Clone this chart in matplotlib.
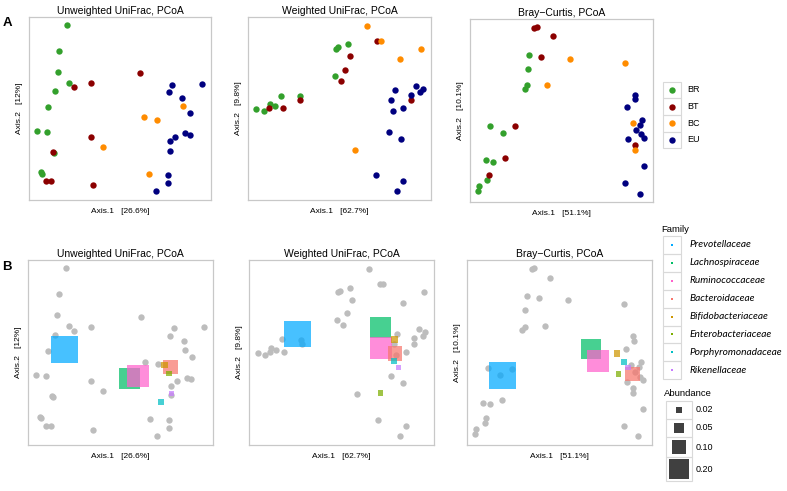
import matplotlib
matplotlib.use('Agg')
import matplotlib.pyplot as plt
import numpy as np

plt.rcParams['font.family'] = ['Liberation Sans', 'DejaVu Sans']

# sample coordinates (scaled 0-100 inside each frame)
# Unweighted UniFrac
uw_br = [(20.7, 95.5), (16.5, 81.5), (15.9, 70.2), (22.1, 64.2), (14.4, 59.5), (10.6, 50.9),
         (4.4, 37.8), (9.7, 37.3), (13.7, 25.8), (6.6, 15.3), (7.1, 14.4)]
uw_bt = [(61.2, 69.3), (33.8, 63.8), (24.7, 61.6), (33.8, 34.5), (13.2, 26.4), (9.5, 10.2),
         (12.2, 10.4), (35.3, 8.0)]
uw_bc = [(84.6, 51.6), (63.1, 45.1), (70.4, 43.8), (40.6, 29.1), (65.8, 14.0)]
uw_eu = [(78.8, 63.1), (95.2, 63.6), (76.8, 59.1), (84.3, 56.0), (88.5, 47.3), (85.7, 36.4),
         (88.3, 35.6), (80.3, 34.4), (77.3, 32.0), (77.5, 26.9), (76.2, 13.5), (76.1, 9.1), (69.7, 4.7)]
# Weighted UniFrac
wu_br = [(4.6, 49.5), (8.6, 48.7), (11.8, 52.2), (14.6, 51.6), (18.0, 57.1), (28.2, 56.9),
         (47.4, 67.8), (47.9, 82.7), (49.2, 83.5), (54.6, 85.1)]
wu_bt = [(11.5, 50.5), (19.1, 50.5), (28.4, 54.4), (50.8, 65.1), (52.8, 71.1), (55.6, 78.5),
         (70.7, 86.9), (89.1, 54.7)]
wu_bc = [(64.8, 95.3), (72.5, 86.9), (94.7, 82.7), (83.2, 76.9), (58.5, 27.5)]
wu_eu = [(80.1, 60.2), (91.8, 62.5), (89.1, 57.6), (95.4, 60.9), (94.0, 59.1), (78.3, 54.5),
         (84.7, 50.5), (79.4, 48.5), (77.0, 37.3), (83.4, 33.6), (69.8, 13.5), (84.9, 10.4), (81.6, 4.7)]
# Bray-Curtis
bc_br = [(32.4, 80.3), (31.5, 72.8), (31.3, 64.0), (29.8, 62.0), (11.1, 41.5), (18.0, 37.8),
         (8.9, 22.7), (12.4, 22.1), (9.5, 11.9), (4.9, 8.8), (4.5, 5.9)]
bc_bt = [(35.1, 95.2), (36.4, 95.6), (45.1, 90.5), (38.7, 79.3), (24.4, 41.3), (19.1, 24.3),
         (10.2, 14.6), (90.0, 30.9)]
bc_bc = [(54.5, 78.4), (84.9, 76.2), (42.2, 64.2), (88.9, 43.3), (90.0, 28.2)]
bc_eu = [(90.0, 58.7), (90.2, 56.3), (86.0, 52.1), (94.0, 44.6), (93.1, 41.9), (90.9, 39.3),
         (93.3, 36.9), (95.1, 35.1), (86.4, 34.2), (95.3, 19.7), (84.9, 10.4), (92.7, 4.6)]

groups = ['BR', 'BT', 'BC', 'EU']
group_colors = ['#33a02c', '#8b0000', '#ff8c00', '#00007f']

titles = ['Unweighted UniFrac, PCoA', 'Weighted UniFrac, PCoA', 'Bray\u2212Curtis, PCoA']
axis1_pct = ['26.6%', '62.7%', '51.1%']
axis2_pct = ['12%', '9.8%', '10.1%']

# family biplot: order = Prevotellaceae, Lachnospiraceae, Ruminococcaceae, Bacteroidaceae,
# Bifidobacteriaceae, Enterobacteriaceae, Porphyromonadaceae, Rikenellaceae
families = ['Prevotellaceae', 'Lachnospiraceae', 'Ruminococcaceae', 'Bacteroidaceae',
            'Bifidobacteriaceae', 'Enterobacteriaceae', 'Porphyromonadaceae', 'Rikenellaceae']
family_colors = ['#00a9ff', '#00be67', '#ff61cc', '#f8766d',
                 '#cd9600', '#7cae00', '#00bfc4', '#c77cff']
abundance = [0.39, 0.24, 0.27, 0.12, 0.025, 0.017, 0.019, 0.017]
uw_fam_x = [19.6, 54.9, 59.4, 77.2, 73.6, 76.3, 71.9, 77.5]
uw_fam_y = [51.7, 35.9, 37.5, 42.2, 43.2, 38.7, 23.1, 27.9]
wu_fam_x = [26.3, 71.0, 71.5, 78.9, 78.6, 71.0, 78.2, 80.7]
wu_fam_y = [60.0, 63.4, 52.3, 49.5, 57.1, 28.1, 45.2, 41.8]
bc_fam_x = [19.1, 67.0, 70.6, 89.5, 81.1, 81.8, 84.9, 87.0]
bc_fam_y = [37.5, 51.9, 45.2, 38.4, 49.4, 38.4, 45.0, 42.0]

size_breaks = [0.02, 0.05, 0.10, 0.20]
size_labels = ['0.02', '0.05', '0.10', '0.20']

SIZE_K = 936  # points^2 per unit abundance
PT = 21       # sample marker size


def frame(ax, i):
    ax.set_xlim(0, 100)
    ax.set_ylim(0, 100)
    ax.set_xticks([])
    ax.set_yticks([])
    for s in ax.spines.values():
        s.set_color('#c8c8c8')
        s.set_linewidth(0.9)
    ax.set_title(titles[i], fontsize=7.5, pad=2.5)
    ax.set_xlabel('Axis.1   [' + axis1_pct[i] + ']', fontsize=6, labelpad=5.5)
    ax.set_ylabel('Axis.2   [' + axis2_pct[i] + ']', fontsize=6, labelpad=4.5)


fig = plt.figure(figsize=(7.87, 4.91), dpi=100)
W, H = 787, 491


def add_ax(x0, y0, x1, y1):
    return fig.add_axes([x0 / W, 1 - y1 / H, (x1 - x0) / W, (y1 - y0) / H])


top_boxes = [(29, 17, 211, 200), (248, 17, 431, 200), (470, 19, 653, 202)]
bot_boxes = [(28, 260, 213, 445), (249, 260, 434, 445), (467, 260, 652, 445)]

panel_data = [[uw_br, uw_bt, uw_bc, uw_eu], [wu_br, wu_bt, wu_bc, wu_eu], [bc_br, bc_bt, bc_bc, bc_eu]]
fam_pos = [(uw_fam_x, uw_fam_y), (wu_fam_x, wu_fam_y), (bc_fam_x, bc_fam_y)]

for i in range(3):
    # A: samples coloured by group
    ax = add_ax(*top_boxes[i])
    for pts, col in zip(panel_data[i], group_colors):
        pts = np.array(pts)
        ax.scatter(pts[:, 0], pts[:, 1], s=PT, color=col, linewidths=0, zorder=3)
    frame(ax, i)

    # B: samples in grey with family squares on top
    ax = add_ax(*bot_boxes[i])
    allpts = np.vstack([np.array(p) for p in panel_data[i]])
    ax.scatter(allpts[:, 0], allpts[:, 1], s=PT, color='#bdbdbd', linewidths=0, zorder=2)
    fx, fy = fam_pos[i]
    ax.scatter(fx, fy, s=np.array(abundance) * SIZE_K, marker='s', c=family_colors,
               alpha=0.72, linewidths=0, zorder=3)
    frame(ax, i)

fig.text(7 / W, 1 - 23 / H, 'A', fontsize=9.5, fontweight='bold', va='center', ha='center')
fig.text(7 / W, 1 - 267 / H, 'B', fontsize=9.5, fontweight='bold', va='center', ha='center')

# legends drawn in a pixel-coordinate overlay
lg = fig.add_axes([655 / W, 0, (W - 655) / W, 1])
lg.set_xlim(655, W)
lg.set_ylim(H, 0)
lg.axis('off')

key_col = '#d9d9d9'
# group legend
row_h = 16.7
for k, (g, col) in enumerate(zip(groups, group_colors)):
    y0 = 81.5 + k * row_h
    lg.add_patch(plt.Rectangle((663, y0), 18, row_h, fill=False, ec=key_col, lw=0.8))
    lg.scatter([672], [y0 + row_h / 2], s=PT, color=col, linewidths=0)
    lg.text(687, y0 + row_h / 2, g, fontsize=6.5, va='center', ha='left')

# family legend
lg.text(661, 230, 'Family', fontsize=6.8, va='center', ha='left')
row_h = 17.9
for k, (f, col) in enumerate(zip(families, family_colors)):
    y0 = 236 + k * row_h
    lg.add_patch(plt.Rectangle((663, y0), 18, row_h, fill=False, ec=key_col, lw=0.8))
    lg.scatter([672], [y0 + row_h / 2], s=4, marker='s', color=col, linewidths=0)
    lg.text(690, y0 + row_h / 2, f, fontsize=7.3, style='italic', family='Lato',
            va='center', ha='left')

# abundance legend
lg.text(664, 393, 'Abundance', fontsize=6.8, va='center', ha='left')
edges = [401, 419, 437, 457, 481]
for k, (v, lab) in enumerate(zip(size_breaks, size_labels)):
    y0, y1 = edges[k], edges[k + 1]
    lg.add_patch(plt.Rectangle((666, y0), 26, y1 - y0, fill=False, ec=key_col, lw=0.8))
    lg.scatter([679], [(y0 + y1) / 2], s=v * SIZE_K, marker='s', color='#404040', linewidths=0)
    lg.text(696, (y0 + y1) / 2, lab, fontsize=6.5, va='center', ha='left')

fig.savefig('out.png', dpi=100)
